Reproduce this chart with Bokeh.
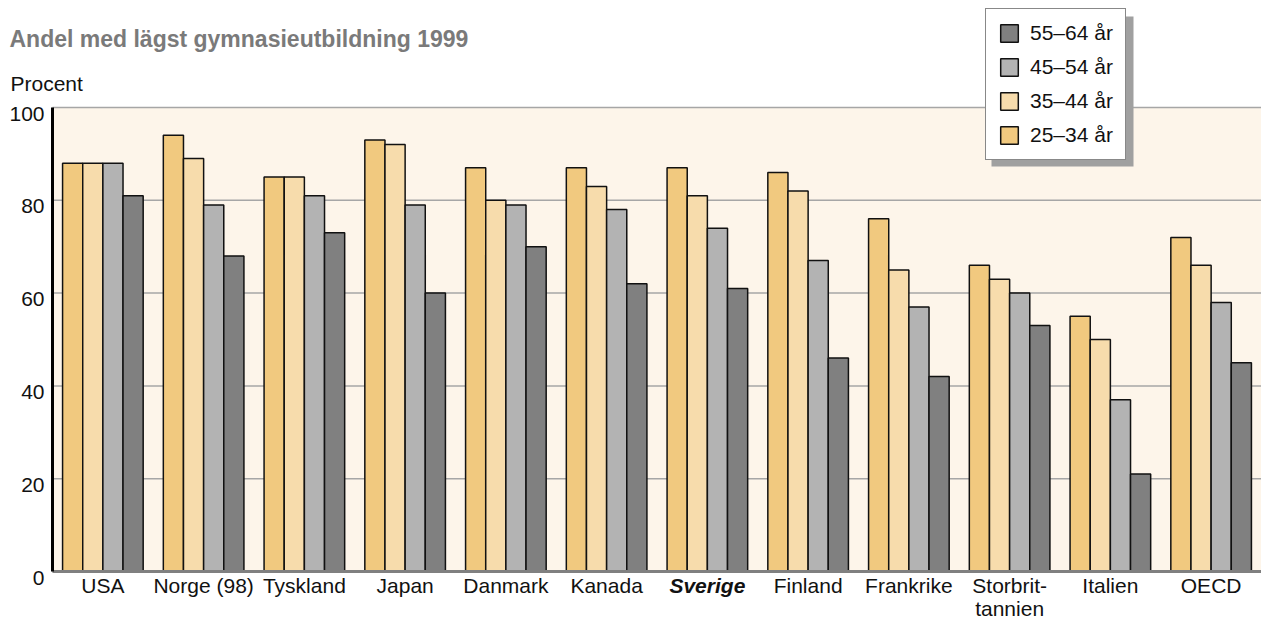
from bokeh.plotting import figure
from bokeh.models import (Range1d, ColumnDataSource, Legend, LegendItem, Label, BoxAnnotation)
from bokeh.core.properties import value
from bokeh.transform import dodge
from bokeh.embed import file_html
from bokeh.resources import INLINE

countries = ["USA", "Norge (98)", "Tyskland", "Japan", "Danmark", "Kanada", "Sverige",
             "Finland", "Frankrike", "Storbrit-\ntannien", "Italien", "OECD"]
label_styles = ["normal"] * 6 + ["bold italic"] + ["normal"] * 5
age_25_34 = [88, 94, 85, 93, 87, 87, 87, 86, 76, 66, 55, 72]
age_35_44 = [88, 89, 85, 92, 80, 83, 81, 82, 65, 63, 50, 66]
age_45_54 = [88, 79, 81, 79, 79, 78, 74, 67, 57, 60, 37, 58]
age_55_64 = [81, 68, 73, 60, 70, 62, 61, 46, 42, 53, 21, 45]
series_names = ["25–34 år", "35–44 år", "45–54 år", "55–64 år"]
colors = ["#f1c97f", "#f7dcac", "#b3b3b3", "#808080"]
y_ticks = [0, 20, 40, 60, 80, 100]
title_text = "Andel med lägst gymnasieutbildning 1999"
y_title = "Procent"

FONT = "Liberation Sans"
W, H = 1261, 619
LEFT, TOP, BOTTOM = 52, 107, 571          # pixel edges of the plotting area
n = len(countries)
xpx = (W - LEFT) / n                       # pixels per category
ypx = (BOTTOM - TOP) / 100.0               # pixels per percent

pos = [i + 0.5 for i in range(n)]
src = ColumnDataSource(dict(pos=pos, country=countries, style=label_styles,
                            a=age_25_34, b=age_35_44, c=age_45_54, d=age_55_64))

p = figure(width=W, height=H,
           x_range=Range1d(-LEFT / xpx, n), y_range=Range1d(-(H - BOTTOM) / ypx, 100 + TOP / ypx),
           output_backend="svg", toolbar_location=None, min_border=0)
p.background_fill_color = "white"
p.border_fill_color = "white"
p.outline_line_color = None
p.axis.visible = False
p.grid.visible = False

# plotting area background
p.add_layout(BoxAnnotation(left=0, right=n, bottom=0, top=100, fill_color="#fdf5ea",
                           fill_alpha=1, line_color=None, level="underlay"))
# grid lines
gsrc = ColumnDataSource(dict(y=y_ticks, x0=[0] * len(y_ticks), x1=[n] * len(y_ticks),
                             t=[str(v) for v in y_ticks]))
p.segment(x0="x0", x1="x1", y0="y", y1="y", source=gsrc, line_color="#a6a6a6", line_width=1.5)

renderers = []
for col, off, color in zip(["a", "b", "c", "d"], [-0.3, -0.1, 0.1, 0.3], colors):
    r = p.vbar(x=dodge("pos", off), top=col, width=0.2, source=src,
               fill_color=color, line_color="#111111", line_width=1.5)
    renderers.append(r)

# axis lines
p.segment(x0=[0], x1=[n], y0=[0], y1=[0], line_color="#808080", line_width=3)
p.segment(x0=[0], x1=[0], y0=[0], y1=[100], line_color="black", line_width=3)

# y tick labels
p.text(x="x0", y="y", text="t", source=gsrc, x_offset=-8, y_offset=6,
       text_align="right", text_baseline="middle", text_font=value(FONT),
       text_font_size="21px", text_color="#111111")
# category labels
p.text(x="pos", y=0, text="country", source=src, y_offset=2, text_align="center",
       text_baseline="top", text_font=value(FONT), text_font_size="21px",
       text_font_style="style", text_line_height=1.0, text_color="#111111")

p.add_layout(Label(x=9, y=H - 38, x_units="screen", y_units="screen", text=title_text,
                   text_baseline="middle", text_font=FONT, text_font_size="23px",
                   text_font_style="bold", text_color="#7a7a7a"))
p.add_layout(Label(x=10, y=H - 83, x_units="screen", y_units="screen", text=y_title,
                   text_baseline="middle", text_font=FONT, text_font_size="21px",
                   text_color="#111111"))

# legend shadow + legend
p.add_layout(BoxAnnotation(left=991, right=1133, top=H - 16, bottom=H - 166, left_units="screen",
                           right_units="screen", top_units="screen", bottom_units="screen",
                           fill_color="#a0a0a0", fill_alpha=1, line_color=None))
items = [LegendItem(label=series_names[i], renderers=[renderers[i]]) for i in [3, 2, 1, 0]]
legend = Legend(items=items, location=(985, H - 160), orientation="vertical",
                glyph_width=22, glyph_height=22, label_height=22, spacing=10,
                padding=12, margin=0, label_standoff=10,
                label_text_font=FONT, label_text_font_size="21px", label_text_color="#111111",
                border_line_color="#111111", border_line_width=1.5,
                background_fill_color="white", background_fill_alpha=1)
p.add_layout(legend, "center")

open("out.html", "w").write(file_html(p, INLINE))
